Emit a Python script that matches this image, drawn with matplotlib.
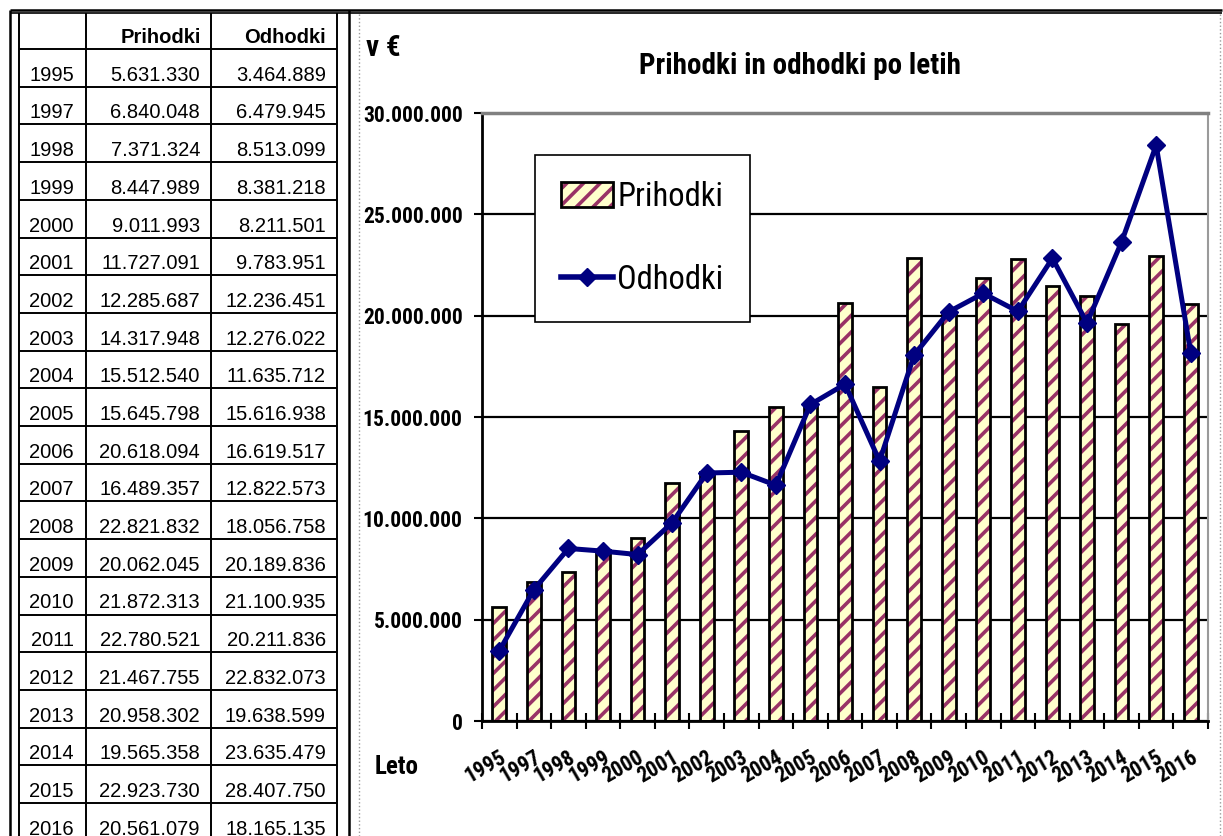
import numpy as np
import matplotlib
matplotlib.use('Agg')
from matplotlib import pyplot as plt
from matplotlib.lines import Line2D
from matplotlib.patches import Patch
from matplotlib.ticker import FuncFormatter
from matplotlib.transforms import ScaledTranslation

years = ['1995', '1997', '1998', '1999', '2000', '2001', '2002', '2003', '2004', '2005', '2006',
         '2007', '2008', '2009', '2010', '2011', '2012', '2013', '2014', '2015', '2016']
prihodki = [5631330, 6840048, 7371324, 8447989, 9011993, 11727091, 12285687, 14317948,
            15512540, 15645798, 20618094, 16489357, 22821832, 20062045, 21872313, 22780521,
            21467755, 20958302, 19565358, 22923730, 20561079]
odhodki = [3464889, 6479945, 8513099, 8381218, 8211501, 9783951, 12236451, 12276022,
           11635712, 15616938, 16619517, 12822573, 18056758, 20189836, 21100935, 20211836,
           22832073, 19638599, 23635479, 28407750, 18165135]
series_names = ['Prihodki', 'Odhodki']
y_ticks = [0, 5000000, 10000000, 15000000, 20000000, 25000000, 30000000]

chart_title = 'Prihodki in odhodki po letih'
y_unit = 'v €'
x_name = 'Leto'

NARROW = ['Roboto Condensed', 'DejaVu Sans']
PLAIN = ['Liberation Sans', 'DejaVu Sans']
BAR_FILL = '#FFFFCC'
BAR_STRIPE = '#993366'
LINE_COLOR = '#000080'

plt.rcParams['hatch.linewidth'] = 2.6


def dots(v):
    return f'{int(v):,}'.replace(',', '.')


W, H = 1223, 836
fig = plt.figure(figsize=(W / 100, H / 100), dpi=100)

# page layer in pixel coordinates: table and frame lines
page = fig.add_axes([0, 0, 1, 1])
page.set_xlim(0, W)
page.set_ylim(H, 0)
page.axis('off')

col_edges = [19, 86, 211, 337]
header_top, header_bottom, row_h = 13, 49, 37.7
row_edges = header_bottom + row_h * np.arange(len(years) + 1)

page.hlines(10, 10, 1222, color='k', lw=1.8)
page.hlines(13, 10, 1222, color='k', lw=1.2)
page.vlines([10, 349], 10, H, color='k', lw=1.8)
page.vlines([359, 1220], 14, H, color='#9a9a9a', lw=1, linestyles=':')
page.vlines(col_edges, header_top, H, color='k', lw=1.4)
page.hlines(row_edges, col_edges[0], col_edges[-1], color='k', lw=1.4)

page.text(201, 43, series_names[0], ha='right', va='baseline', family=PLAIN, fontsize=14.5,
          fontweight='bold')
page.text(326, 43, series_names[1], ha='right', va='baseline', family=PLAIN, fontsize=14.5,
          fontweight='bold')
for i, (year, p, o) in enumerate(zip(years, prihodki, odhodki)):
    base = row_edges[i + 1] - 6
    page.text(74, base, year, ha='right', va='baseline', family=PLAIN, fontsize=14.5)
    page.text(200, base, dots(p), ha='right', va='baseline', family=PLAIN, fontsize=14.5)
    page.text(326, base, dots(o), ha='right', va='baseline', family=PLAIN, fontsize=14.5)

page.text(800, 66, chart_title, ha='center', va='center', family=NARROW, fontsize=21,
          fontweight='bold')
page.text(366, 48, y_unit, ha='left', va='center', family=NARROW, fontsize=21, fontweight='bold')
page.text(397, 767, x_name, ha='center', va='center', family=NARROW, fontsize=18,
          fontweight='bold')

# chart
left, right, top, bottom = 482, 1208, 113, 721
ax = fig.add_axes([left / W, 1 - bottom / H, (right - left) / W, (bottom - top) / H])
ax.patch.set_alpha(0)

x = np.arange(len(years))
ax.bar(x, prihodki, width=0.4, color=BAR_FILL, edgecolor=BAR_STRIPE, hatch='//', lw=0, zorder=1)
ax.bar(x, prihodki, width=0.4, fill=False, edgecolor='k', lw=2, zorder=1.1)
ax.plot(x, odhodki, color=LINE_COLOR, lw=3.6, marker='D', ms=9, zorder=3)

ax.set_xlim(-0.5, len(years) - 0.5)
ax.set_ylim(0, y_ticks[-1])
ax.set_yticks(y_ticks)
ax.yaxis.set_major_formatter(FuncFormatter(lambda v, _: dots(v)))
ax.set_xticks(x)
ax.set_xticklabels(years)
ax.set_xticks(np.arange(len(years) + 1) - 0.5, minor=True)

ax.tick_params(axis='x', which='major', length=0, pad=33)
ax.tick_params(axis='x', which='minor', direction='inout', length=12, width=1.5)
ax.tick_params(axis='y', direction='out', length=6, width=1.5, pad=8)
for lab in ax.get_yticklabels():
    lab.set_family(NARROW)
    lab.set_fontsize(15.5)
    lab.set_fontweight('bold')
shift = ScaledTranslation(-0.14, 0, fig.dpi_scale_trans)
for lab in ax.get_xticklabels():
    lab.set_family(NARROW)
    lab.set_fontsize(15.5)
    lab.set_fontweight('bold')
    lab.set_rotation(30)
    lab.set_ha('center')
    lab.set_va('center')
    lab.set_rotation_mode('anchor')
    lab.set_transform(lab.get_transform() + shift)

ax.grid(axis='y', color='k', lw=1.6)
ax.set_axisbelow(True)
ax.spines['top'].set_color('#808080')
ax.spines['top'].set_linewidth(2.5)
ax.spines['right'].set_color('#9a9a9a')
ax.spines['right'].set_linewidth(1.5)
ax.spines['left'].set_linewidth(2)
ax.spines['bottom'].set_linewidth(2)

handles = [(Patch(facecolor=BAR_FILL, edgecolor=BAR_STRIPE, hatch='//', lw=0),
            Patch(fill=False, edgecolor='k', lw=2)),
           Line2D([], [], color=LINE_COLOR, lw=4, marker='D', ms=9)]
leg = ax.legend(handles, series_names, loc='upper left',
                bbox_to_anchor=((535 - left) / (right - left), (bottom - 155) / (bottom - top)),
                borderaxespad=0, fancybox=False, edgecolor='k', framealpha=1,
                prop={'family': NARROW, 'size': 23.5}, handlelength=1.6, handleheight=0.8,
                handletextpad=0.12, labelspacing=1.55, borderpad=0.8)
leg.get_frame().set_linewidth(1.2)

fig.savefig('out.png', dpi=100)
